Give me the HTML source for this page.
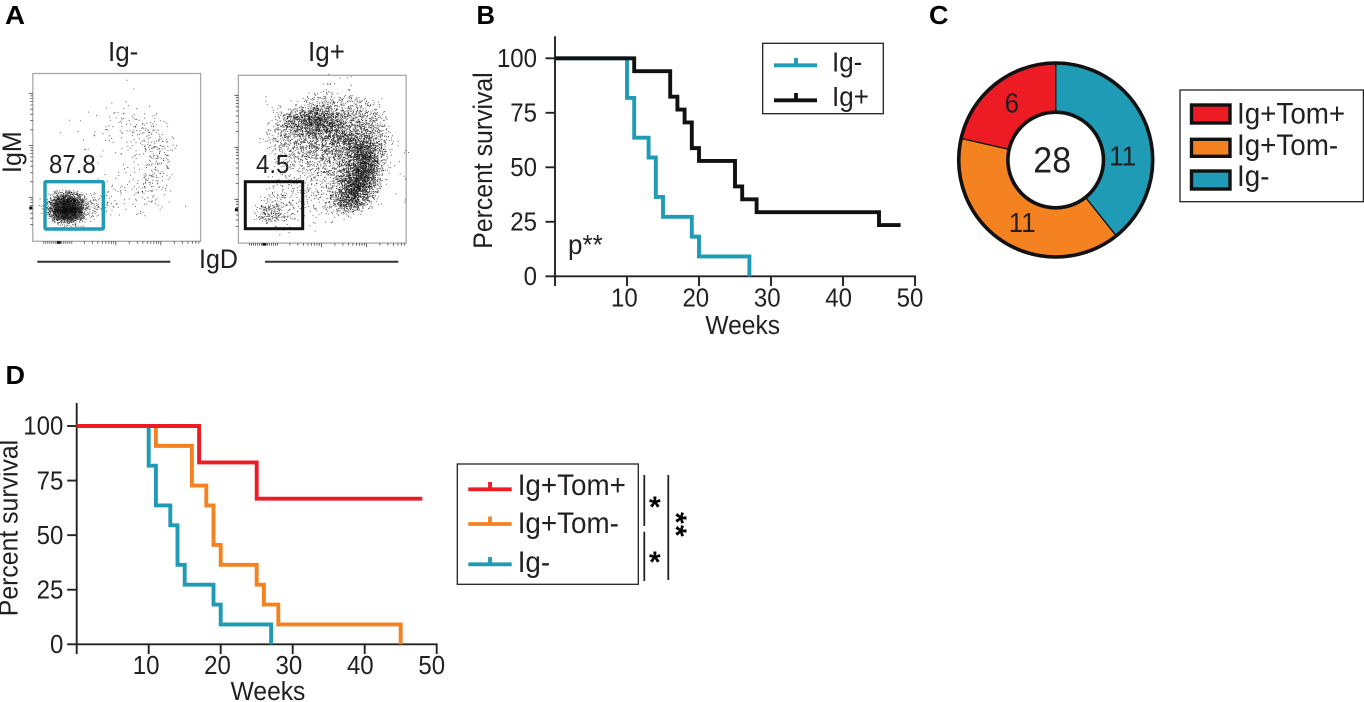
<!DOCTYPE html>
<html lang="en">
<head>
<meta charset="utf-8">
<title>Survival figure</title>
<style>
html,body{margin:0;padding:0;background:#fff;width:1364px;height:702px;overflow:hidden}
svg{display:block}
text{font-family:"Liberation Sans",Arial,sans-serif;fill:#231f20;font-size:24px}
.panel{font-weight:bold;font-size:25.5px;fill:#000}
.star{font-size:30px;font-weight:bold;fill:#000}
.legend-box{fill:#fff;stroke:#222;stroke-width:1.3}
.leg{stroke-width:3.8;fill:none}
</style>
</head>
<body>
<svg id="figure" xmlns="http://www.w3.org/2000/svg" width="1364" height="702" viewBox="0 0 1364 702">
  <text class="panel" x="5" y="24" textLength="20" lengthAdjust="spacingAndGlyphs">A</text>
  <text class="panel" x="476.5" y="24" textLength="18.5" lengthAdjust="spacingAndGlyphs">B</text>
  <text class="panel" x="929" y="24" textLength="19.5" lengthAdjust="spacingAndGlyphs">C</text>
  <text class="panel" x="5.5" y="384" textLength="19.5" lengthAdjust="spacingAndGlyphs">D</text>

  <g id="flow-left"></g>
  <g id="flow-right"></g>
  <text x="108" y="61" style="font-size:26px">Ig-</text>
  <text x="308" y="61" style="font-size:26px">Ig+</text>
  <text x="49" y="173">87.8</text>
  <text x="256" y="173">4.5</text>
  <rect x="45" y="181.7" width="58.3" height="47.3" fill="none" stroke="#1f9bb6" stroke-width="3.4" rx="1"/>
  <rect x="245.3" y="181.7" width="57.4" height="47" fill="none" stroke="#111" stroke-width="3"/>
  <text transform="translate(21,173) rotate(-90)" style="font-size:25px">IgM</text>
  <text x="199" y="268" style="font-size:25px">IgD</text>
  <line x1="37.3" y1="261.7" x2="170.3" y2="261.7" stroke="#333" stroke-width="2"/>
  <line x1="265" y1="261.7" x2="398.3" y2="261.7" stroke="#333" stroke-width="2"/>

  <g id="chart-b"></g>
  <text x="568" y="254" style="font-size:26px">p**</text>
  <g>
    <rect class="legend-box" x="762.7" y="43.3" width="120.6" height="70.4"/>
    <path class="leg" stroke="#1f9bb6" d="M774 65.3H817M796 65.3V58"/>
    <path class="leg" stroke="#111" d="M774 100.3H817M796 100.3V93"/>
    <text x="832" y="71.7" style="font-size:26px">Ig-</text>
    <text x="832" y="106" style="font-size:26px">Ig+</text>
  </g>

  <g id="chart-c"></g>
  <g>
    <rect class="legend-box" x="1180" y="90" width="183.4" height="111.7"/>
    <rect x="1191.5" y="105" width="38.5" height="18" fill="#ed1c24" stroke="#111" stroke-width="3.4"/>
    <rect x="1191.5" y="139.3" width="38.5" height="17" fill="#f58220" stroke="#111" stroke-width="3.4"/>
    <rect x="1191.5" y="171" width="38.5" height="18" fill="#1f9bb6" stroke="#111" stroke-width="3.4"/>
    <text x="1237" y="123.3" style="font-size:27.8px">Ig+Tom+</text>
    <text x="1237" y="155" style="font-size:27.8px">Ig+Tom-</text>
    <text x="1237" y="186" style="font-size:27.8px">Ig-</text>
  </g>

  <g id="chart-d"></g>
  <g>
    <rect class="legend-box" x="457.3" y="464" width="181" height="120.3"/>
    <path class="leg" stroke="#ed1c24" d="M468.3 489.3H511.7M490 489.3V482"/>
    <path class="leg" stroke="#f58220" d="M468.3 524H511.7M490 524V516.5"/>
    <path class="leg" stroke="#1f9bb6" d="M468.3 564.3H511.7M490 564.3V557"/>
    <text x="517.7" y="495" style="font-size:27.8px">Ig+Tom+</text>
    <text x="517.7" y="533" style="font-size:27.8px">Ig+Tom-</text>
    <text x="517.7" y="572" style="font-size:27.8px">Ig-</text>
  </g>
  <line x1="644.3" y1="475" x2="644.3" y2="526" stroke="#222" stroke-width="1.8"/>
  <line x1="644.3" y1="531.7" x2="644.3" y2="581" stroke="#222" stroke-width="1.8"/>
  <line x1="668.3" y1="475" x2="668.3" y2="580" stroke="#222" stroke-width="1.8"/>
  <text class="star" x="649" y="517">*</text>
  <text class="star" x="649" y="572">*</text>
  <text class="star" transform="translate(666,512) rotate(90)" letter-spacing="1.3">**</text>
</svg>
<script>
// ---------- chart data ----------
const xTickValues = [10, 20, 30, 40, 50];
const yTickValues = [0, 25, 50, 75, 100];
const xTickLabels = ["10", "20", "30", "40", "50"];
const yTickLabels = ["0", "25", "50", "75", "100"];

const bIgNegWeeks = [0, 10, 11, 13, 14, 15, 19, 20, 27];
const bIgNegSurvival = [100, 81.8, 63.6, 54.5, 36.4, 27.3, 18.2, 9.1, 0];
const bIgPosWeeks = [0, 11, 16, 17, 18, 19, 20, 25, 26, 28, 45, 48];
const bIgPosSurvival = [100, 94.1, 82.4, 76.5, 70.6, 58.8, 52.9, 41.2, 35.3, 29.4, 23.5, 23.5];

const dIgNegWeeks = [0, 10, 11, 13, 14, 15, 19, 20, 27];
const dIgNegSurvival = [100, 81.8, 63.6, 54.5, 36.4, 27.3, 18.2, 9.1, 0];
const dTomNegWeeks = [0, 11, 16, 18, 19, 20, 25, 26, 28, 45];
const dTomNegSurvival = [100, 90.9, 72.7, 63.6, 45.5, 36.4, 27.3, 18.2, 9.1, 0];
const dTomPosWeeks = [0, 17, 25, 48];
const dTomPosSurvival = [100, 83.3, 66.7, 66.7];

const donutCategories = ["Ig-", "Ig+Tom-", "Ig+Tom+"];
const donutCounts = [11, 11, 6];

// Approximate dot counts read per cell of an 8px density grid over each flow plot.
const flowLeftDensity = [
[0,0,0,0,0,0,0,0,0,0,0,0,0,0,0,0,0,0,0,0,0],
[0,0,0,0,0,0,0,0,0,0,0,0,1,0,0,0,0,0,0,0,0],
[0,0,0,0,0,0,0,0,0,0,0,0,1,0,0,0,0,0,0,0,0],
[0,0,0,0,0,0,0,0,0,0,0,1,0,0,0,0,0,0,0,0,0],
[0,0,0,0,0,0,0,1,0,2,2,2,0,2,1,0,0,0,0,0,0],
[0,0,0,0,0,0,1,0,1,3,2,4,4,5,3,2,1,0,0,0,0],
[0,0,0,0,1,1,0,0,2,4,3,3,5,8,6,4,2,0,0,0,0],
[0,0,0,1,0,0,0,2,1,2,3,2,5,8,8,5,3,1,0,0,0],
[0,0,0,0,0,0,1,1,0,2,2,2,3,6,9,10,5,2,0,0,0],
[0,0,0,0,0,0,2,1,1,0,1,2,3,3,9,12,8,2,0,0,0],
[0,0,0,0,0,0,0,0,1,0,1,2,0,2,8,10,8,1,0,0,0],
[0,0,0,0,0,0,0,0,1,0,1,2,1,2,8,10,7,0,0,0,0],
[0,0,0,0,0,0,0,0,1,1,2,1,2,3,8,10,6,0,0,0,0],
[0,0,0,0,0,0,0,0,0,2,1,2,3,6,8,8,4,0,0,0,0],
[0,0,0,0,0,0,0,0,0,3,3,3,3,7,8,7,4,0,0,0,0],
[0,4,30,130,160,100,20,10,8,8,4,2,3,5,6,4,1,0,0,0,0],
[0,10,120,500,550,320,40,22,14,8,2,2,1,3,4,3,0,0,1,0,0],
[0,8,100,500,550,280,20,8,4,1,0,1,1,1,1,0,0,0,0,0,0],
[0,0,8,30,40,15,3,1,0,0,0,0,0,0,0,0,0,0,0,0,0],
[0,0,0,0,0,0,0,0,0,0,0,0,0,0,0,0,0,0,0,0,0],
[0,0,0,0,0,0,0,0,0,0,0,0,0,0,0,0,0,0,0,0,0]
];
const flowRightDensity = [
[0,0,0,0,0,0,0,0,0,0,0,1,0,1,0,0,0,0,0,0,0],
[0,0,0,0,0,0,0,0,0,0,1,1,0,1,0,0,0,0,0,0,0],
[0,0,0,0,0,0,0,0,0,2,3,3,3,2,1,0,0,0,0,0,0],
[0,0,0,1,0,0,0,2,5,8,10,8,8,6,6,5,3,1,0,0,0],
[0,0,0,0,2,3,6,12,18,22,22,15,10,10,10,9,7,3,0,0,0],
[0,0,0,0,2,8,22,28,35,50,50,30,15,12,12,12,10,6,1,0,0],
[0,0,0,2,4,9,20,24,28,32,35,35,22,16,16,14,13,8,3,0,0],
[0,0,0,2,5,8,10,14,16,18,18,22,28,30,25,18,14,9,4,0,0],
[0,0,0,1,4,7,8,10,12,15,14,16,22,28,40,40,25,12,4,1,0],
[0,0,0,0,3,4,6,8,10,14,12,12,14,20,32,55,35,15,4,0,1],
[0,0,0,0,2,3,5,6,8,10,10,9,12,18,30,65,40,14,3,1,0],
[0,0,0,0,0,2,3,3,5,7,6,8,12,20,35,65,42,12,2,0,0],
[0,0,0,0,0,1,2,3,3,4,5,7,12,28,55,60,40,8,1,0,1],
[0,0,0,1,2,3,3,2,3,4,3,6,12,32,60,60,30,5,0,0,0],
[0,0,0,1,2,3,2,2,3,3,3,6,15,38,60,45,15,3,0,0,0],
[0,0,0,2,4,4,3,2,3,3,3,8,25,45,50,25,6,1,0,0,1],
[0,0,3,10,14,6,4,2,1,3,3,5,12,22,15,6,1,0,0,0,0],
[0,0,6,14,12,6,3,1,0,1,1,1,1,2,1,0,0,0,0,0,0],
[0,0,0,2,2,2,1,0,0,1,0,0,0,0,0,0,0,0,0,0,0],
[0,0,0,0,0,1,0,0,0,0,0,0,0,0,0,0,0,0,0,0,0],
[0,0,0,0,0,0,0,0,0,0,0,0,0,0,0,0,0,0,0,0,0]
];

// ---------- helpers ----------
const SVG_NS = "http://www.w3.org/2000/svg";
function make(parent, tag, props) {
  const node = document.createElementNS(SVG_NS, tag);
  for (const key in props) node.setAttribute(key, props[key]);
  parent.appendChild(node);
  return node;
}
function stepPath(weeks, survival, xs, ys) {
  let d = "M" + xs(weeks[0]) + " " + ys(survival[0]);
  for (let i = 1; i < weeks.length; i++) {
    d += "H" + xs(weeks[i]) + "V" + ys(survival[i]);
  }
  return d;
}

// ---------- survival charts ----------
function drawAxes(group, cfg) {
  const xs = v => cfg.x0 + (cfg.x50 - cfg.x0) * v / 50;
  const ys = v => cfg.y0 + (cfg.y100 - cfg.y0) * v / 100;

  const yAxis = make(group, "line", {x1: cfg.x0, x2: cfg.x0, y1: cfg.top, y2: cfg.bottom, stroke: "#222", "stroke-width": 1.9});
  
  
  const xAxis = make(group, "line", {x1: cfg.x0, x2: cfg.x50 + 0.9, y1: cfg.y0, y2: cfg.y0, stroke: "#222", "stroke-width": 1.9});
  
  

  xTickValues.forEach((v, i) => {
    const tick = make(group, "line", {x1: xs(v), x2: xs(v), y1: cfg.y0, y2: cfg.bottom, stroke: "#222", "stroke-width": 1.9});
    
    
    const label = make(group, "text", {x: xs(v) - 2 - v * 0.06, y: cfg.xLabelY, "text-anchor": "middle"});
    label.textContent = xTickLabels[i];
    
    
  });
  yTickValues.forEach((v, i) => {
    const tick = make(group, "line", {x1: cfg.x0 - 9.5, x2: cfg.x0, y1: ys(v), y2: ys(v), stroke: "#222", "stroke-width": 1.9});
    
    
    const label = make(group, "text", {x: cfg.yLabelX, y: ys(v) + 8.7, "text-anchor": "end"});
    label.textContent = yTickLabels[i];
    
    
  });

  const xTitle = make(group, "text", {x: cfg.xTitleX, y: cfg.xTitleY, "text-anchor": "middle", style: "font-size:24.6px"});
  xTitle.textContent = "Weeks";
  
  
  const yTitle = make(group, "text", {transform: "translate(" + cfg.yTitleX + "," + cfg.yTitleY + ") rotate(-90)", "text-anchor": "middle", style: "font-size:24.8px"});
  yTitle.textContent = "Percent survival";
  
  
  return {xs, ys};
}
function drawSeries(group, weeks, survival, scales, color, name) {
  const line = make(group, "path", {d: stepPath(weeks, survival, scales.xs, scales.ys), fill: "none", stroke: color, "stroke-width": 3.9, "stroke-linejoin": "miter"});
  
  
}

const chartB = document.getElementById("chart-b");
const scalesB = drawAxes(chartB, {x0: 555, x50: 915, y0: 276.3, y100: 58.3, top: 36.3, bottom: 286, xLabelY: 306.7, yLabelX: 537, xTitleX: 742.7, xTitleY: 334, yTitleX: 492, yTitleY: 160.5});
drawSeries(chartB, bIgNegWeeks, bIgNegSurvival, scalesB, "#1f9bb6", "series-ig-negative");
drawSeries(chartB, bIgPosWeeks, bIgPosSurvival, scalesB, "#111111", "series-ig-positive");

const chartD = document.getElementById("chart-d");
const scalesD = drawAxes(chartD, {x0: 76.7, x50: 436.7, y0: 644.3, y100: 426, top: 403, bottom: 654, xLabelY: 674, yLabelX: 63.3, xTitleX: 268, xTitleY: 700, yTitleX: 17.3, yTitleY: 528});
drawSeries(chartD, dIgNegWeeks, dIgNegSurvival, scalesD, "#1f9bb6", "series-ig-negative");
drawSeries(chartD, dTomNegWeeks, dTomNegSurvival, scalesD, "#f58220", "series-tom-negative");
drawSeries(chartD, dTomPosWeeks, dTomPosSurvival, scalesD, "#ed1c24", "series-tom-positive");

// ---------- donut ----------
(function () {
  const group = document.getElementById("chart-c");
  const cx = 1055.7, cy = 160, rOuter = 97, rInner = 47.8;
  const colors = ["#1f9bb6", "#f58220", "#ed1c24"];
  const labelShiftDeg = [16, -4, 1];
  const labelRadius = [67, 71, 72];
  const total = donutCounts.reduce((a, b) => a + b, 0);
  const pt = (r, deg) => {
    const a = deg * Math.PI / 180;
    return [cx + r * Math.sin(a), cy - r * Math.cos(a)];
  };
  let start = 0;
  const labels = [];
  donutCounts.forEach((count, i) => {
    const sweep = count / total * 360;
    const end = start + sweep;
    const large = sweep > 180 ? 1 : 0;
    const a = pt(rOuter, start), b = pt(rOuter, end), c = pt(rInner, end), d = pt(rInner, start);
    const slice = make(group, "path", {
      d: "M" + a + "A" + rOuter + " " + rOuter + " 0 " + large + " 1 " + b + "L" + c + "A" + rInner + " " + rInner + " 0 " + large + " 0 " + d + "Z",
      fill: colors[i], stroke: "#111", "stroke-width": 1.3
    });
    
    
    labels.push([count, pt(labelRadius[i], start + sweep / 2 + labelShiftDeg[i])]);
    start = end;
  });
  const ringOuter = make(group, "circle", {cx: cx, cy: cy, r: rOuter, fill: "none", stroke: "#111", "stroke-width": 3.6});
  
  
  const ringInner = make(group, "circle", {cx: cx, cy: cy, r: rInner, fill: "#fff", stroke: "#111", "stroke-width": 3.6});
  
  
  labels.forEach(item => {
    const label = make(group, "text", {x: item[1][0], y: item[1][1] + 9.5, "text-anchor": "middle", style: "font-size:26px"});
    label.textContent = String(item[0]);
    
    
  });
  const centre = make(group, "text", {x: cx - 3.5, y: cy + 12.5, "text-anchor": "middle", style: "font-size:34px"});
  centre.textContent = String(total);
  
  
})();

// ---------- flow plots ----------
function scatterJitter(n) {
  const s = Math.sin(n * 12.9898 + 4.1414) * 43758.5453;
  return s - Math.floor(s);
}
function drawFlow(group, density, left, top, dotsPerCount) {
  const cell = 8, width = 167.8, height = 167.8;
  const frame = make(group, "rect", {x: left, y: top, width: width, height: height, fill: "#fff", stroke: "#a9a9a9", "stroke-width": 1.3});
  
  

  density.forEach((row, r) => {
    row.forEach((count, c) => {
      if (!count) return;
      const dotCount = Math.round(count * dotsPerCount);
      let d = "";
      for (let k = 0; k < dotCount; k++) {
        const seed = r * 1013 + c * 97 + k * 7.13 + left;
        const u = scatterJitter(seed) + scatterJitter(seed + 1.7) - 0.5;
        const v = scatterJitter(seed + 3.1) + scatterJitter(seed + 5.3) - 0.5;
        d += "M" + (left + (c + u) * cell).toFixed(1) + " " + (top + (r + v) * cell).toFixed(1) + "h.9v.9h-.9z";
      }
      const dots = make(group, "path", {d: d, fill: "#050505", "fill-opacity": 0.75});
      
      
    });
  });

  let ticks = "";
  const bottom = top + height;
  [0, 1, 2].forEach(decade => {
    const start = top + 20 + decade * 52;
    ticks += "M" + (left - 4) + " " + start + "h4";
    for (let k = 2; k < 10; k++) {
      const y = start + 52 * (1 - Math.log10(k));
      if (y < bottom - 8) ticks += "M" + (left - 2.5) + " " + y.toFixed(1) + "h2.5";
    }
  });
  for (let x = left + 11; x < left + 40; x += 2) ticks += "M" + x + " " + bottom + "v2.5";
  [83, 128].forEach(offset => {
    ticks += "M" + (left + offset) + " " + bottom + "v4";
    for (let k = 2; k < 10; k++) {
      const x = left + offset - 45 * (1 - Math.log10(k));
      ticks += "M" + x.toFixed(1) + " " + bottom + "v2.5";
    }
    for (let k = 2; k < 10; k++) {
      const x = left + offset + 45 * Math.log10(k);
      if (x < left + width) ticks += "M" + x.toFixed(1) + " " + bottom + "v2.5";
    }
  });
  const tickPath = make(group, "path", {d: ticks, fill: "none", stroke: "#444", "stroke-width": 0.8});
  
  
  const tickClump = make(group, "path", {d: "M" + (left - 3.5) + " " + (top + 133) + "h3v3h-3zM" + (left + 24) + " " + bottom + "h4v2.5h-4z", fill: "#111"});
  
  
}
drawFlow(document.getElementById("flow-left"), flowLeftDensity, 32.8, 73.5, 1);
drawFlow(document.getElementById("flow-right"), flowRightDensity, 238.4, 75.3, 2.8);

// ---------- glyph proportions: taller type at the same line widths, as in the figure ----------
document.querySelectorAll("#figure text:not(.panel):not(.star)").forEach(node => {
  const natural = node.getComputedTextLength();
  const size = parseFloat(getComputedStyle(node).fontSize);
  node.style.fontSize = (size * 1.07) + "px";
  node.setAttribute("textLength", natural);
  node.setAttribute("lengthAdjust", "spacingAndGlyphs");
});
</script>
</body>
</html>
